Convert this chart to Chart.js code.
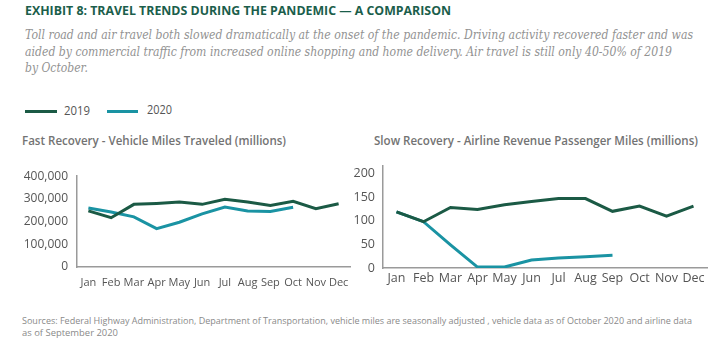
<!DOCTYPE html>
<html>
<head>
<meta charset="utf-8">
<script src="https://cdn.jsdelivr.net/npm/chart.js@4"></script>
<style>
  html,body{margin:0;padding:0;background:#fff;}
  body{width:719px;height:357px;position:relative;overflow:hidden;font-family:"Open Sans",sans-serif;}
  .t{position:absolute;white-space:nowrap;display:inline-block;transform-origin:left center;}
  .title{font-family:"Open Sans";font-weight:700;font-size:12px;color:#1b5e4b;line-height:16px;}
  .sub{font-family:"DejaVu Serif";font-style:italic;font-size:12px;color:#929292;line-height:16px;}
  .ctitle{font-family:"Open Sans";font-weight:600;font-size:12px;color:#737373;line-height:16px;}
  .leg{font-family:"Open Sans";font-size:12px;color:#555;line-height:16px;}
  .src{font-family:"Open Sans";font-size:9px;color:#8a8a8a;line-height:12px;}
  .ll{position:absolute;height:3px;}
  canvas{position:absolute;}
</style>
</head>
<body>
<div class="t title" style="left:25px;top:3px;" data-w="426">EXHIBIT 8: TRAVEL TRENDS DURING THE PANDEMIC — A COMPARISON</div>
<div class="t sub" style="left:25px;top:27px;" data-w="668">Toll road and air travel both slowed dramatically at the onset of the pandemic. Driving activity recovered faster and was</div>
<div class="t sub" style="left:25px;top:44px;" data-w="647">aided by commercial traffic from increased online shopping and home delivery. Air travel is still only 40-50% of 2019</div>
<div class="t sub" style="left:25px;top:60px;" data-w="63">by October.</div>

<div class="ll" style="left:25px;top:110px;width:32px;background:#1b5a45;"></div>
<div class="t leg" style="left:64px;top:103px;" data-w="26">2019</div>
<div class="ll" style="left:107px;top:110px;width:31px;background:#1a93a3;"></div>
<div class="t leg" style="left:147px;top:102px;" data-w="25">2020</div>

<div class="t ctitle" style="left:22px;top:133px;" data-w="264">Fast Recovery - Vehicle Miles Traveled (millions)</div>
<div class="t ctitle" style="left:374px;top:133px;" data-w="324">Slow Recovery - Airline Revenue Passenger Miles (millions)</div>

<canvas id="c1" width="360" height="135" style="left:0px;top:160px;"></canvas>
<canvas id="c2" width="389" height="140" style="left:330px;top:150px;"></canvas>

<div class="t src" style="left:22px;top:315px;" data-w="670">Sources: Federal Highway Administration, Department of Transportation, vehicle miles are seasonally adjusted , vehicle data as of October 2020 and airline data</div>
<div class="t src" style="left:22px;top:327px;" data-w="96">as of September 2020</div>

<script>
// ---- data ----
const months = ["Jan","Feb","Mar","Apr","May","Jun","Jul","Aug","Sep","Oct","Nov","Dec"];
const seriesNames = ["2019","2020"];
const vehicle2019 = [247,217,276,280,286,276,298,286,271,289,257,279].map(v=>v*1000);
const vehicle2020 = [260,242,221,169,197,234,264,247,245,263,null,null].map(v=>v===null?null:v*1000);
const airline2019 = [119,98,128,124,134,141,147,147,120,131,110,131];
const airline2020 = [119,98,49,2,2,17,21,24,27,null,null,null];
const vehicleTicks = [0,100000,200000,300000,400000];
const airlineTicks = [0,50,100,150,200];

// ---- fit text widths ----
document.querySelectorAll('.t').forEach(el=>{
  const target=+el.dataset.w; const w=el.getBoundingClientRect().width;
  if(target&&w) el.style.transform='scaleX('+(target/w)+')';
});

const C2019='#1b5a45', C2020='#1a93a3';
function ds(label,data,color){
  return {label,data,borderColor:color,backgroundColor:color,borderWidth:3,pointRadius:0,pointHoverRadius:0,tension:0,spanGaps:false,fill:false};
}
function axisBorder(){return {display:true,color:'#9a9a9a',width:1.5};}

new Chart(document.getElementById('c1'),{
  type:'line',
  data:{labels:months,datasets:[ds(seriesNames[0],vehicle2019,C2019),ds(seriesNames[1],vehicle2020,C2020)]},
  options:{
    responsive:false,animation:false,
    layout:{padding:{top:10,right:10,left:0,bottom:0}},
    plugins:{legend:{display:false},tooltip:{enabled:false}},
    scales:{
      x:{offset:true,grid:{display:false,drawTicks:false},border:axisBorder(),
         ticks:{color:'#555',font:{family:'Open Sans',size:11},padding:9,autoSkip:false,maxRotation:0},
         afterFit(s){s.height=28;}},
      y:{min:0,max:400000,grid:{display:false,drawTicks:false},border:axisBorder(),
         afterBuildTicks(s){s.ticks=vehicleTicks.map(v=>({value:v}));},
         ticks:{color:'#555',font:{family:'Open Sans',size:12},padding:9,callback:v=>v.toLocaleString('en-US')},
         afterFit(s){s.width=77;}}
    }
  }
});

new Chart(document.getElementById('c2'),{
  type:'line',
  data:{labels:months,datasets:[ds(seriesNames[0],airline2019,C2019),ds(seriesNames[1],airline2020,C2020)]},
  options:{
    responsive:false,animation:false,
    layout:{padding:{top:7,right:12,left:0,bottom:0}},
    plugins:{legend:{display:false},tooltip:{enabled:false}},
    scales:{
      x:{offset:true,grid:{display:false,drawTicks:false},border:axisBorder(),
         ticks:{color:'#555',font:{family:'Open Sans',size:12.5},padding:3,autoSkip:false,maxRotation:0},
         afterFit(s){s.height=22;}},
      y:{min:0,max:217,grid:{display:false,drawTicks:false},border:axisBorder(),
         afterBuildTicks(s){s.ticks=airlineTicks.map(v=>({value:v}));},
         ticks:{color:'#555',font:{family:'Open Sans',size:12.5},padding:8},
         afterFit(s){s.width=53;}}
    }
  }
});
</script>
</body>
</html>
